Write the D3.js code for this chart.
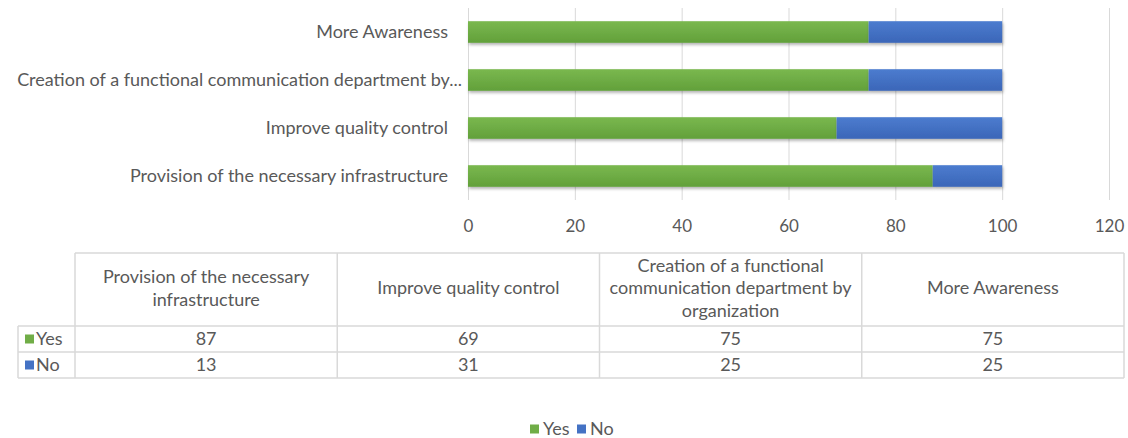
<!DOCTYPE html>
<html><head><meta charset="utf-8">
<script src="https://cdn.jsdelivr.net/npm/d3@7"></script>
<style>
body{margin:0;background:#fff;}
svg{display:block;font-family:Lato, "Open Sans", sans-serif;}
</style></head>
<body>
<svg id="chart" width="1128" height="438"></svg>
<script>
const categories = ["Provision of the necessary infrastructure", "Improve quality control", "Creation of a functional communication department by organization", "More Awareness"];
const seriesNames = ["Yes", "No"];
const yesValues = [87, 69, 75, 75];
const noValues = [13, 31, 25, 25];
const xTicks = [0, 20, 40, 60, 80, 100, 120];
const colors = {Yes: "#70AD47", No: "#4472C4"};
const colorsLight = {Yes: "#7ab84f", No: "#4c7ccf"};
const colorsDark = {Yes: "#62a03a", No: "#3b66b8"};

const svg = d3.select("#chart");
const textColor = "#595959";
const gridColor = "#d9d9d9";
const fontSize = 18;
const tickFontSize = 17;

const defs = svg.append("defs");
seriesNames.forEach(s => {
  const g = defs.append("linearGradient").attr("id", "grad" + s).attr("x1", 0).attr("y1", 0).attr("x2", 0).attr("y2", 1);
  g.append("stop").attr("offset", "0%").attr("stop-color", colorsLight[s]);
  g.append("stop").attr("offset", "100%").attr("stop-color", colorsDark[s]);
});
const f = defs.append("filter").attr("id", "shadow").attr("x", "-5%").attr("y", "-30%").attr("width", "110%").attr("height", "170%");
f.append("feDropShadow").attr("dx", 1).attr("dy", 2).attr("stdDeviation", 1.5).attr("flood-color", "#000").attr("flood-opacity", 0.3);

const plotTop = 8, plotBottom = 200;
const x = d3.scaleLinear().domain([0, 120]).range([468, 1109]);
const y = d3.scaleBand().domain(categories.slice().reverse()).range([plotTop, plotBottom]).paddingInner(0.55).paddingOuter(0.275);

// gridlines + x axis
const xAxis = svg.append("g").attr("transform", `translate(0,${plotBottom})`)
  .call(d3.axisBottom(x).tickValues(xTicks).tickSize(-(plotBottom - plotTop)).tickPadding(20));
xAxis.select(".domain").remove();
xAxis.selectAll(".tick line").attr("stroke", gridColor).attr("stroke-width", 1);
xAxis.selectAll(".tick text").attr("fill", textColor).attr("font-size", tickFontSize).attr("font-family", "Lato");

// stacked bars
const data = categories.map((c, i) => ({cat: c, Yes: yesValues[i], No: noValues[i]}));
const stack = d3.stack().keys(seriesNames)(data);
svg.append("g").selectAll("g").data(stack).join("g")
  .attr("fill", d => `url(#grad${d.key})`)
  .attr("filter", "url(#shadow)")
  .selectAll("rect").data(d => d).join("rect")
  .attr("x", d => x(d[0]))
  .attr("width", d => x(d[1]) - x(d[0]))
  .attr("y", d => y(d.data.cat))
  .attr("height", y.bandwidth());

// category axis with truncation
const maxLabelW = 455;
const yAxis = svg.append("g").attr("transform", `translate(${x(0)},0)`)
  .call(d3.axisLeft(y).tickSize(0).tickPadding(20));
yAxis.select(".domain").remove();
yAxis.selectAll(".tick text").attr("fill", textColor).attr("font-size", fontSize).attr("font-family", "Lato")
  .each(function(d) {
    const t = d3.select(this);
    if (this.getComputedTextLength() > maxLabelW) {
      let s = d;
      while (s.length > 0) {
        s = s.slice(0, -1);
        t.text(s.trimEnd() + "...");
        if (this.getComputedTextLength() <= maxLabelW) break;
      }
      t.attr("x", -6);
    }
  });

// data table
const tLeft = 18, tCol0 = 75, tRight = 1124;
const tTop = 253, headBottom = 326, rowH = 26;
const colW = (tRight - tCol0) / categories.length;
const table = svg.append("g");
const line = (x1, y1, x2, y2) => table.append("line").attr("x1", x1).attr("y1", y1).attr("x2", x2).attr("y2", y2).attr("stroke", gridColor).attr("stroke-width", 1.5);
line(tCol0, tTop, tRight, tTop);
line(tLeft, headBottom, tRight, headBottom);
line(tLeft, headBottom + rowH, tRight, headBottom + rowH);
line(tLeft, headBottom + 2 * rowH, tRight, headBottom + 2 * rowH);
line(tLeft, headBottom, tLeft, headBottom + 2 * rowH);
for (let i = 0; i <= categories.length; i++) line(tCol0 + i * colW, tTop, tCol0 + i * colW, headBottom + 2 * rowH);

// header wrapped text
const wrapW = 250, lineH = 22.5;
categories.forEach((c, i) => {
  const cx = tCol0 + (i + 0.5) * colW;
  const words = c.split(" ");
  const tmp = table.append("text").attr("font-size", fontSize).attr("font-family", "Lato");
  const lines = [];
  let cur = "";
  words.forEach(w => {
    const test = cur ? cur + " " + w : w;
    tmp.text(test);
    if (tmp.node().getComputedTextLength() > wrapW && cur) { lines.push(cur); cur = w; }
    else cur = test;
  });
  if (cur) lines.push(cur);
  tmp.remove();
  const cy = (tTop + headBottom) / 2 - 1.5;
  const startY = cy - (lines.length - 1) * lineH / 2;
  const txt = table.append("text").attr("text-anchor", "middle").attr("fill", textColor)
    .attr("font-size", fontSize).attr("font-family", "Lato");
  lines.forEach((l, k) => txt.append("tspan").attr("x", cx).attr("y", startY + k * lineH).attr("dy", "0.35em").text(l));
});

// rows
const rows = [{name: "Yes", vals: yesValues}, {name: "No", vals: noValues}];
rows.forEach((r, ri) => {
  const cy = headBottom + (ri + 0.5) * rowH;
  table.append("rect").attr("x", tLeft + 7).attr("y", cy - 4.5).attr("width", 9).attr("height", 9).attr("fill", colors[r.name]);
  table.append("text").attr("x", tLeft + 18).attr("y", cy).attr("dy", "0.35em").attr("fill", textColor)
    .attr("font-size", fontSize).attr("font-family", "Lato").text(r.name);
  r.vals.forEach((v, i) => {
    table.append("text").attr("x", tCol0 + (i + 0.5) * colW).attr("y", cy).attr("dy", "0.35em")
      .attr("text-anchor", "middle").attr("fill", textColor).attr("font-size", fontSize).attr("font-family", "Lato").text(v);
  });
});

// legend
const legend = svg.append("g");
const legY = 429;
const legItems = [{name: "Yes", x: 530}, {name: "No", x: 577}];
legItems.forEach(it => {
  legend.append("rect").attr("x", it.x).attr("y", legY - 4.5).attr("width", 9).attr("height", 9).attr("fill", colors[it.name]);
  legend.append("text").attr("x", it.x + 13).attr("y", legY).attr("dy", "0.35em").attr("fill", textColor)
    .attr("font-size", fontSize).attr("font-family", "Lato").text(it.name);
});
</script>
</body></html>
